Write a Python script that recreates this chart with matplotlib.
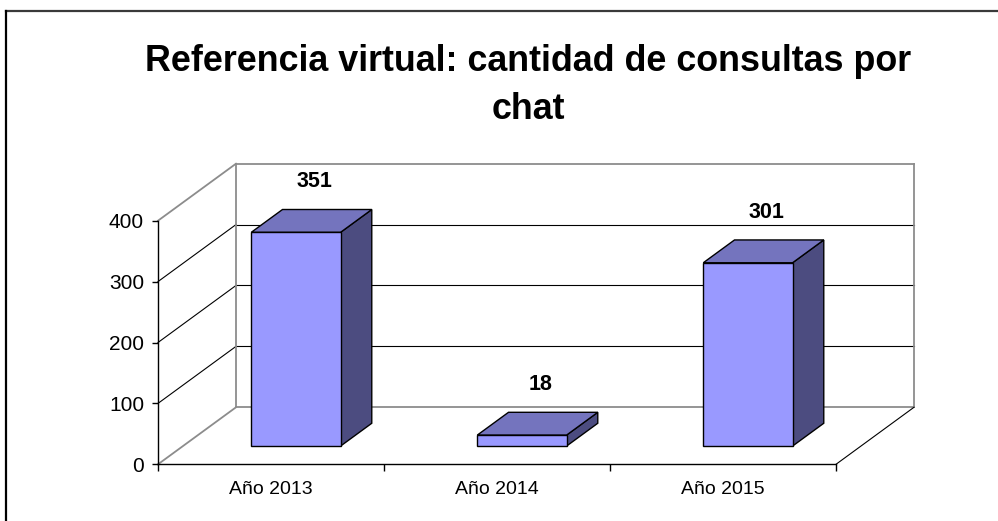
import matplotlib
matplotlib.use("Agg")
import matplotlib.pyplot as plt
from matplotlib.patches import Polygon
from matplotlib.lines import Line2D

plt.rcParams['font.family'] = ['Liberation Sans', 'DejaVu Sans']

# ---- data ----
categories = ["Año 2013", "Año 2014", "Año 2015"]
values = [351, 18, 301]
y_ticks = [0, 100, 200, 300, 400]
title = "Referencia virtual: cantidad de consultas por\nchat"

# ---- style / geometry ----
DX = 0.345      # depth shift in category units
DY = 93.6       # depth shift in value units
BAR_W = 0.395
D0, D1 = 0.32, 0.72
FRONT = '#9999FF'
TOP = '#7474BE'
SIDE = '#4C4C80'
GRAY = '#8C8C8C'

W, H = 998, 521
fig = plt.figure(figsize=(W / 100, H / 100), dpi=100)
ax = fig.add_axes([158 / W, (H - 464.3) / H, (836 - 158) / W, 243.6 / H])
ax.set_xlim(0, len(categories))
ax.set_ylim(0, max(y_ticks))
ax.patch.set_alpha(0)


def P(c, v, d):
    return (c + d * DX, v + d * DY)


ncat = len(categories)
top = max(y_ticks)

# back wall gridlines and side wall diagonals
for t in y_ticks:
    col = GRAY if t in (y_ticks[0], y_ticks[-1]) else 'black'
    lw = 1.3 if col == GRAY else 0.8
    a, b = P(0, t, 1), P(ncat, t, 1)
    ax.add_line(Line2D([a[0], b[0]], [a[1], b[1]], color=col, lw=lw, clip_on=False, zorder=1))
    a, b = P(0, t, 0), P(0, t, 1)
    ax.add_line(Line2D([a[0], b[0]], [a[1], b[1]], color=col, lw=lw, clip_on=False, zorder=1))

# back wall verticals
for c in (0, ncat):
    a, b = P(c, 0, 1), P(c, top, 1)
    ax.add_line(Line2D([a[0], b[0]], [a[1], b[1]], color=GRAY, lw=1.3, clip_on=False, zorder=1))

# floor right diagonal
a, b = P(ncat, 0, 0), P(ncat, 0, 1)
ax.add_line(Line2D([a[0], b[0]], [a[1], b[1]], color='black', lw=0.8, clip_on=False, zorder=1))

# bars
for i, v in enumerate(values):
    c0 = i + 0.5 - BAR_W / 2
    c1 = i + 0.5 + BAR_W / 2
    front = [P(c0, 0, D0), P(c1, 0, D0), P(c1, v, D0), P(c0, v, D0)]
    topf = [P(c0, v, D0), P(c1, v, D0), P(c1, v, D1), P(c0, v, D1)]
    side = [P(c1, 0, D0), P(c1, 0, D1), P(c1, v, D1), P(c1, v, D0)]
    for pts, col in ((side, SIDE), (topf, TOP), (front, FRONT)):
        ax.add_patch(Polygon(pts, closed=True, facecolor=col, edgecolor='black',
                             lw=1.0, joinstyle='miter', clip_on=False, zorder=3))
    lx = P(i + 0.5, v, 0.56)[0]
    ly = P(i + 0.5, v, D1)[1]
    ax.annotate(str(v), (lx, ly), xytext=(0, 20), textcoords='offset points',
                ha='center', va='center', fontsize=15.5, fontweight='bold',
                annotation_clip=False, zorder=5)

# axes styling
for s in ('top', 'right'):
    ax.spines[s].set_visible(False)
for s in ('left', 'bottom'):
    ax.spines[s].set_color('black')
    ax.spines[s].set_linewidth(1.0)
    ax.spines[s].set_zorder(2)

ax.set_yticks(y_ticks)
ax.set_yticklabels([str(t) for t in y_ticks])
ax.tick_params(axis='y', which='major', direction='out', length=4, width=1,
               labelsize=15, pad=6)
ax.set_xticks(range(ncat + 1))
ax.set_xticklabels([''] * (ncat + 1))
ax.tick_params(axis='x', which='major', direction='out', length=5, width=1)
ax.set_xticks([i + 0.5 for i in range(ncat)], minor=True)
ax.set_xticklabels(categories, minor=True)
ax.tick_params(axis='x', which='minor', length=0, labelsize=14, pad=12)

# title
fig.text(528 / W, 1 - 85.5 / H, title, ha='center', va='center', fontsize=25.8,
         fontweight='bold', linespacing=1.45)

# chart border (top and left edges visible)
fig.add_artist(Line2D([6 / W, 1.0], [1 - 10.5 / H, 1 - 10.5 / H], color='#3a3a3a', lw=1.6,
                      transform=fig.transFigure))
fig.add_artist(Line2D([6 / W, 6 / W], [-0.01, 1 - 10.5 / H], color='black', lw=1.6,
                      transform=fig.transFigure))

fig.savefig('out.png', dpi=100)
